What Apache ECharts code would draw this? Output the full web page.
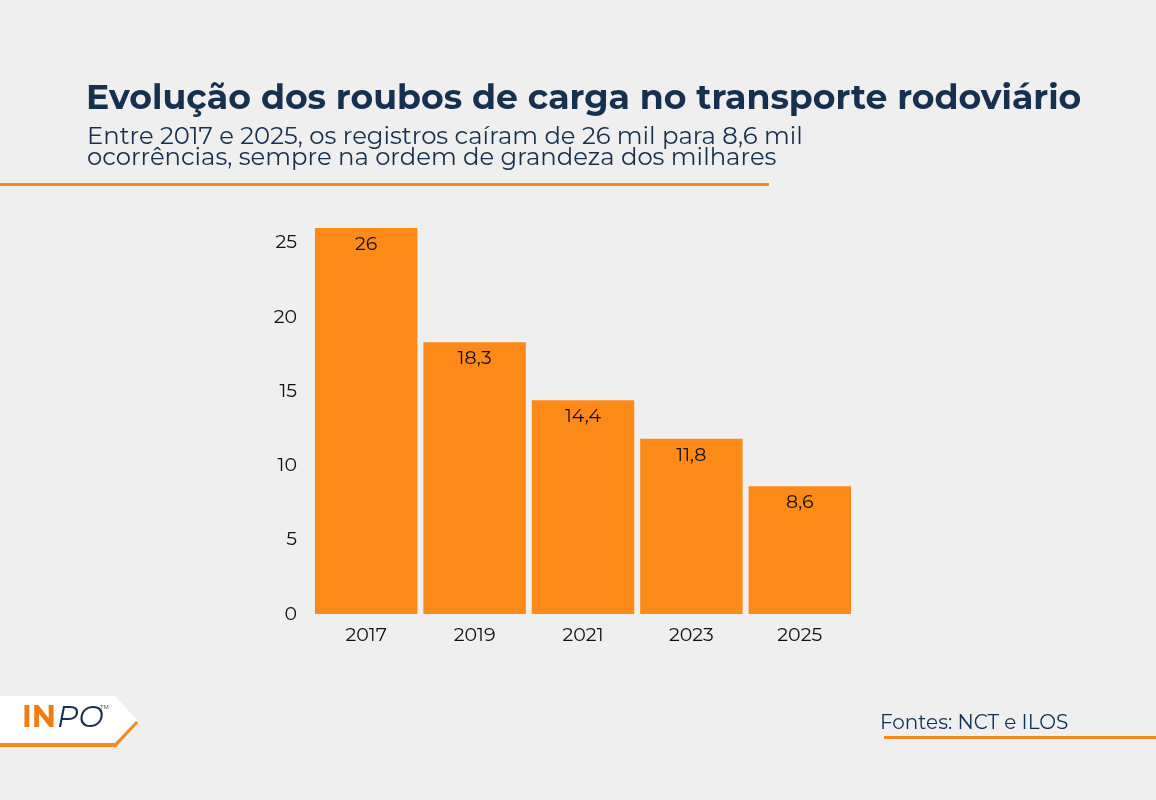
<!DOCTYPE html><html><head><meta charset="utf-8"><script src="https://cdn.jsdelivr.net/npm/echarts@6/dist/echarts.min.js"></script>
<style>html,body{margin:0;background:#efefef}#c{width:1156px;height:800px}</style></head><body><div id="c"></div><script>
const categories=['2017','2019','2021','2023','2025'];
const values=[26,18.3,14.4,11.8,8.6];
const yTicks=[0,5,10,15,20,25];
const ch=echarts.init(document.getElementById('c'));
const F='Montserrat, "Noto Sans", sans-serif';
ch.setOption({backgroundColor:'#efefef',animation:false,
title:[{text:'Evolução dos roubos de carga no transporte rodoviário',left:81,top:76,textStyle:{fontFamily:F,fontSize:34.7,fontWeight:'bold',color:'#16304f'}},
{text:'Entre 2017 e 2025, os registros caíram de 26 mil para 8,6 mil\nocorrências, sempre na ordem de grandeza dos milhares',left:82,top:121,textStyle:{fontFamily:F,fontSize:24.3,fontWeight:'normal',color:'#16304f',lineHeight:21}}],
grid:{left:312,right:302,top:168.6,bottom:186},
xAxis:{type:'category',data:categories,axisLine:{show:false},axisTick:{show:false},axisLabel:{fontFamily:F,fontSize:19,color:'#111',margin:12}},
yAxis:{type:'value',min:0,max:30,interval:5,splitLine:{show:false},axisLabel:{fontFamily:F,fontSize:19,color:'#111',margin:15,showMaxLabel:false,formatter:v=>yTicks.includes(v)?String(v):''}},
series:[{type:'bar',data:values,barCategoryGap:'5.5%',itemStyle:{color:'#fb8a18'},label:{show:true,position:'insideTop',offset:[0,2],fontFamily:F,fontSize:19,color:'#111',formatter:p=>String(p.value).replace('.',',')}}],
graphic:[
{type:'rect',shape:{x:0,y:183,width:769,height:3},style:{fill:'#f58a1f'}},
{type:'rect',shape:{x:884,y:736,width:272,height:3},style:{fill:'#f58a1f'}},
{type:'text',left:880,top:713,style:{text:'Fontes: NCT e ILOS',font:'20px '+F,fill:'#16304f'}},
{type:'polygon',shape:{points:[[0,699],[116,699],[138,723],[116,747],[0,747]]},style:{fill:'#f58a1f'}},
{type:'polygon',shape:{points:[[0,696],[115,696],[137,720],[115,743],[0,743]]},style:{fill:'#ffffff'}},
{type:'text',left:22,top:703,style:{text:'IN',font:'bold 30px '+F,fill:'#ef7d12'}},
{type:'text',left:57,top:703,style:{text:'PO',font:'italic 30px '+F,fill:'#16304f'}},
{type:'text',left:100,top:704,style:{text:'TM',font:'6px sans-serif',fill:'#555'}}
]});
</script></body></html>
